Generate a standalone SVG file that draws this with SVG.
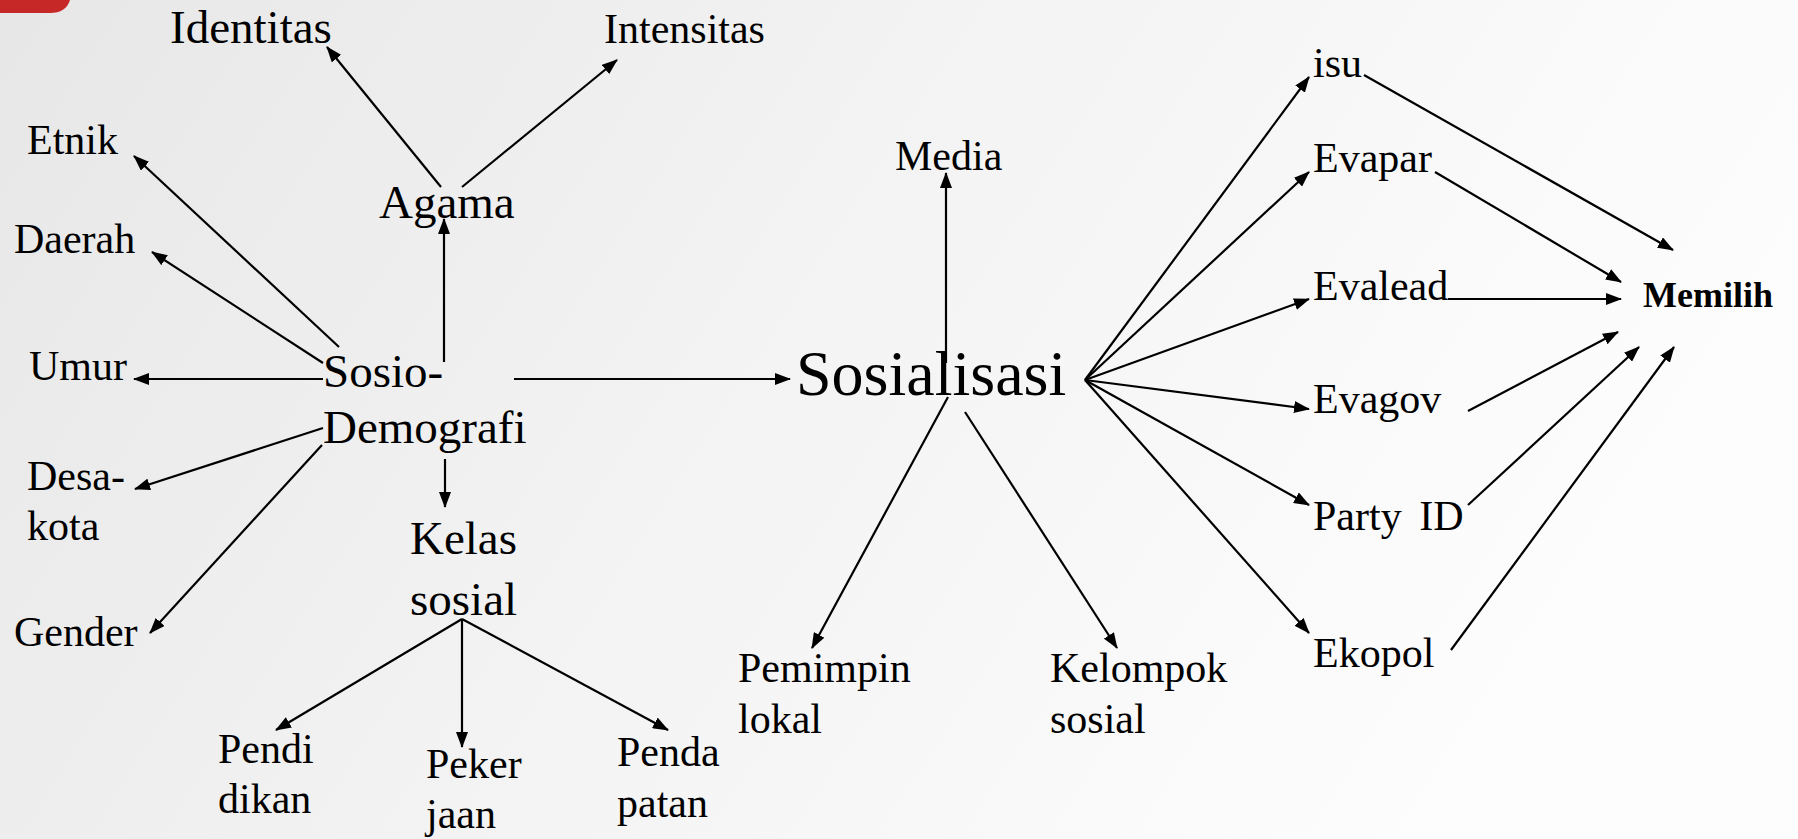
<svg xmlns="http://www.w3.org/2000/svg" width="1798" height="839" viewBox="0 0 1798 839">
<defs>
<linearGradient id="bg" x1="0" y1="0" x2="1" y2="0.3">
<stop offset="0" stop-color="#e7e7e7"/>
<stop offset="0.5" stop-color="#f3f3f3"/>
<stop offset="1" stop-color="#fdfdfd"/>
</linearGradient>
<marker id="ah" viewBox="0 0 16 12" markerWidth="16" markerHeight="12" refX="15" refY="6" orient="auto" markerUnits="userSpaceOnUse">
<path d="M0,0 L16,6 L0,12 Z" fill="#000"/>
</marker>
<style>
text{font-family:"Liberation Serif","Times New Roman",serif;fill:#000}
.s{font-size:42px}
.m{font-size:47px}
.l{font-size:64px}
.b{font-size:36px;font-weight:bold}
#connectors line{stroke:#000;stroke-width:2.2;marker-end:url(#ah)}
</style>
</defs>
<rect width="1798" height="839" fill="url(#bg)"/>
<path d="M0,0 H70 Q66,13 50,13 H0 Z" fill="#c62828"/>
<g id="connectors">
<line x1="441" y1="187" x2="327" y2="47"/>
<line x1="462" y1="187" x2="617" y2="60"/>
<line x1="339" y1="347" x2="134" y2="156"/>
<line x1="323" y1="363" x2="152" y2="252"/>
<line x1="444" y1="362" x2="444" y2="219"/>
<line x1="323" y1="379" x2="134" y2="379"/>
<line x1="514" y1="379" x2="790" y2="379"/>
<line x1="323" y1="428" x2="135" y2="489"/>
<line x1="322" y1="445" x2="150" y2="633"/>
<line x1="445" y1="459" x2="445" y2="507"/>
<line x1="462" y1="619" x2="276" y2="730"/>
<line x1="462" y1="619" x2="462" y2="747"/>
<line x1="462" y1="619" x2="668" y2="730"/>
<line x1="946" y1="363" x2="946" y2="173"/>
<line x1="948" y1="397" x2="812" y2="648"/>
<line x1="965" y1="412" x2="1117" y2="648"/>
<line x1="1085" y1="380" x2="1309" y2="77"/>
<line x1="1085" y1="380" x2="1309" y2="172"/>
<line x1="1085" y1="380" x2="1309" y2="299"/>
<line x1="1085" y1="380" x2="1309" y2="409"/>
<line x1="1085" y1="380" x2="1309" y2="505"/>
<line x1="1085" y1="380" x2="1309" y2="633"/>
<line x1="1364" y1="75" x2="1673" y2="250"/>
<line x1="1435" y1="172" x2="1621" y2="282"/>
<line x1="1448" y1="299" x2="1621" y2="299"/>
<line x1="1468" y1="411" x2="1618" y2="332"/>
<line x1="1468" y1="505" x2="1639" y2="347"/>
<line x1="1451" y1="650" x2="1674" y2="347"/>
</g>
<g id="identitas"><text class="m" x="170" y="43">Identitas</text></g>
<g id="intensitas"><text class="s" x="604" y="43">Intensitas</text></g>
<g id="etnik"><text class="s" x="27" y="154">Etnik</text></g>
<g id="agama"><text class="m" x="379" y="218">Agama</text></g>
<g id="daerah"><text class="s" x="14" y="253">Daerah</text></g>
<g id="umur"><text class="s" x="29" y="380">Umur</text></g>
<g id="sosio-demografi"><text class="m" x="323" y="387">Sosio-</text><text class="m" x="323" y="443">Demografi</text></g>
<g id="desa-kota"><text class="s" x="27" y="490">Desa-</text><text class="s" x="27" y="540">kota</text></g>
<g id="kelas-sosial"><text class="m" x="410" y="554">Kelas</text><text class="m" x="410" y="615">sosial</text></g>
<g id="gender"><text class="s" x="14" y="646">Gender</text></g>
<g id="pendidikan"><text class="s" x="218" y="763">Pendi</text><text class="s" x="218" y="813">dikan</text></g>
<g id="pekerjaan"><text class="s" x="426" y="778">Peker</text><text class="s" x="426" y="828">jaan</text></g>
<g id="pendapatan"><text class="s" x="617" y="766">Penda</text><text class="s" x="617" y="817">patan</text></g>
<g id="media"><text class="s" x="895" y="170">Media</text></g>
<g id="sosialisasi"><text class="l" x="796" y="395">Sosialisasi</text></g>
<g id="pemimpin-lokal"><text class="s" x="738" y="682">Pemimpin</text><text class="s" x="738" y="733">lokal</text></g>
<g id="kelompok-sosial"><text class="s" x="1050" y="682">Kelompok</text><text class="s" x="1050" y="733">sosial</text></g>
<g id="isu"><text class="s" x="1313" y="77">isu</text></g>
<g id="evapar"><text class="s" x="1313" y="172">Evapar</text></g>
<g id="evalead"><text class="s" x="1313" y="300">Evalead</text></g>
<g id="evagov"><text class="s" x="1313" y="413">Evagov</text></g>
<g id="party-id"><text class="s" x="1313" y="530" word-spacing="7">Party ID</text></g>
<g id="ekopol"><text class="s" x="1313" y="667">Ekopol</text></g>
<g id="memilih"><text class="b" x="1643" y="307">Memilih</text></g>
</svg>
